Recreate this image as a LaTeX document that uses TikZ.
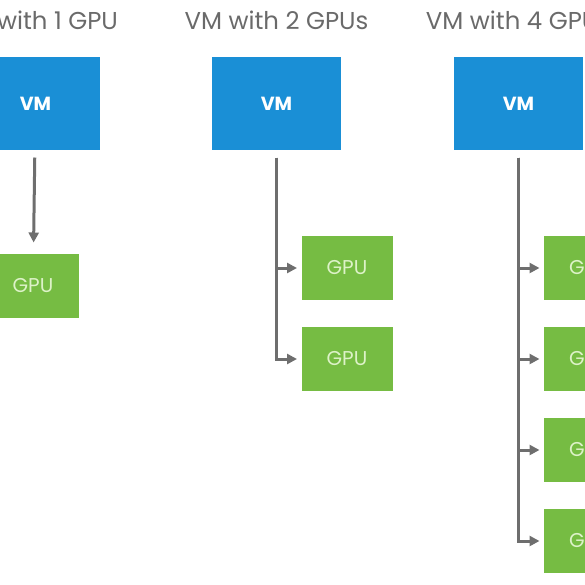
\documentclass[tikz,border=0pt]{standalone}
\usepackage{fontspec}
\setmainfont{Poppins}
\usetikzlibrary{arrows.meta}
\definecolor{vmblue}{HTML}{1A8FD6}
\definecolor{gpugreen}{HTML}{76BC43}
\definecolor{gputext}{HTML}{DDF2C8}
\definecolor{linkgray}{HTML}{6E6E6E}
\definecolor{titlegray}{HTML}{6A6A6A}
\def\gpusep{91}

\begin{document}
\begin{tikzpicture}[x=0.5pt,y=-0.5pt,>={Triangle[length=5pt,width=5pt]},
    draw=linkgray, line width=1.5pt]
    \tikzstyle{vm box}=[rectangle,fill=vmblue,minimum width=64.5pt,minimum height=46.5pt,inner sep=0pt,
        text=white,font=\fontsize{9.5}{11}\selectfont\bfseries]
    \tikzstyle{gpu box}=[rectangle,fill=gpugreen,minimum width=45.5pt,minimum height=32pt,inner sep=0pt,
        text=gputext,font=\fontsize{10}{12}\selectfont]
    \tikzstyle{title}=[text=titlegray,font=\fontsize{12.2}{14}\selectfont]
    \tikzstyle{link}=[->,shorten <=3pt,shorten >=1.5pt]

    \useasboundingbox (0,0) rectangle (585,585);
    \clip (0,0) rectangle (585,585);

    % Draw the VM boxes with their titles
    \foreach \name / \x / \n in {1/35.5/1 GPU, 2/276.5/2 GPUs, 3/518.5/4 GPUs} {
        \node[vm box] (VM-\name) at (\x,103.5) {VM};
        \node[title] (T-\name) at (\x,20) {VM with \n};
    }

    % Draw the GPU boxes
    \node[gpu box] (G-1-1) at (33,286) {GPU};
    \foreach \y in {1,2}
        \node[gpu box] (G-2-\y) at (347,177+\y*\gpusep) {GPU};
    \foreach \y in {1,...,4}
        \node[gpu box] (G-3-\y) at (589.5,177+\y*\gpusep) {GPU};

    % Connect each VM with its GPUs
    \draw[link,shorten >=5pt] (VM-1) -- (G-1-1);
    \foreach \y in {1,2}
        \draw[link] (VM-2.south) |- (G-2-\y.west);
    \foreach \y in {1,...,4}
        \draw[link] (VM-3.south) |- (G-3-\y.west);
\end{tikzpicture}
\end{document}
